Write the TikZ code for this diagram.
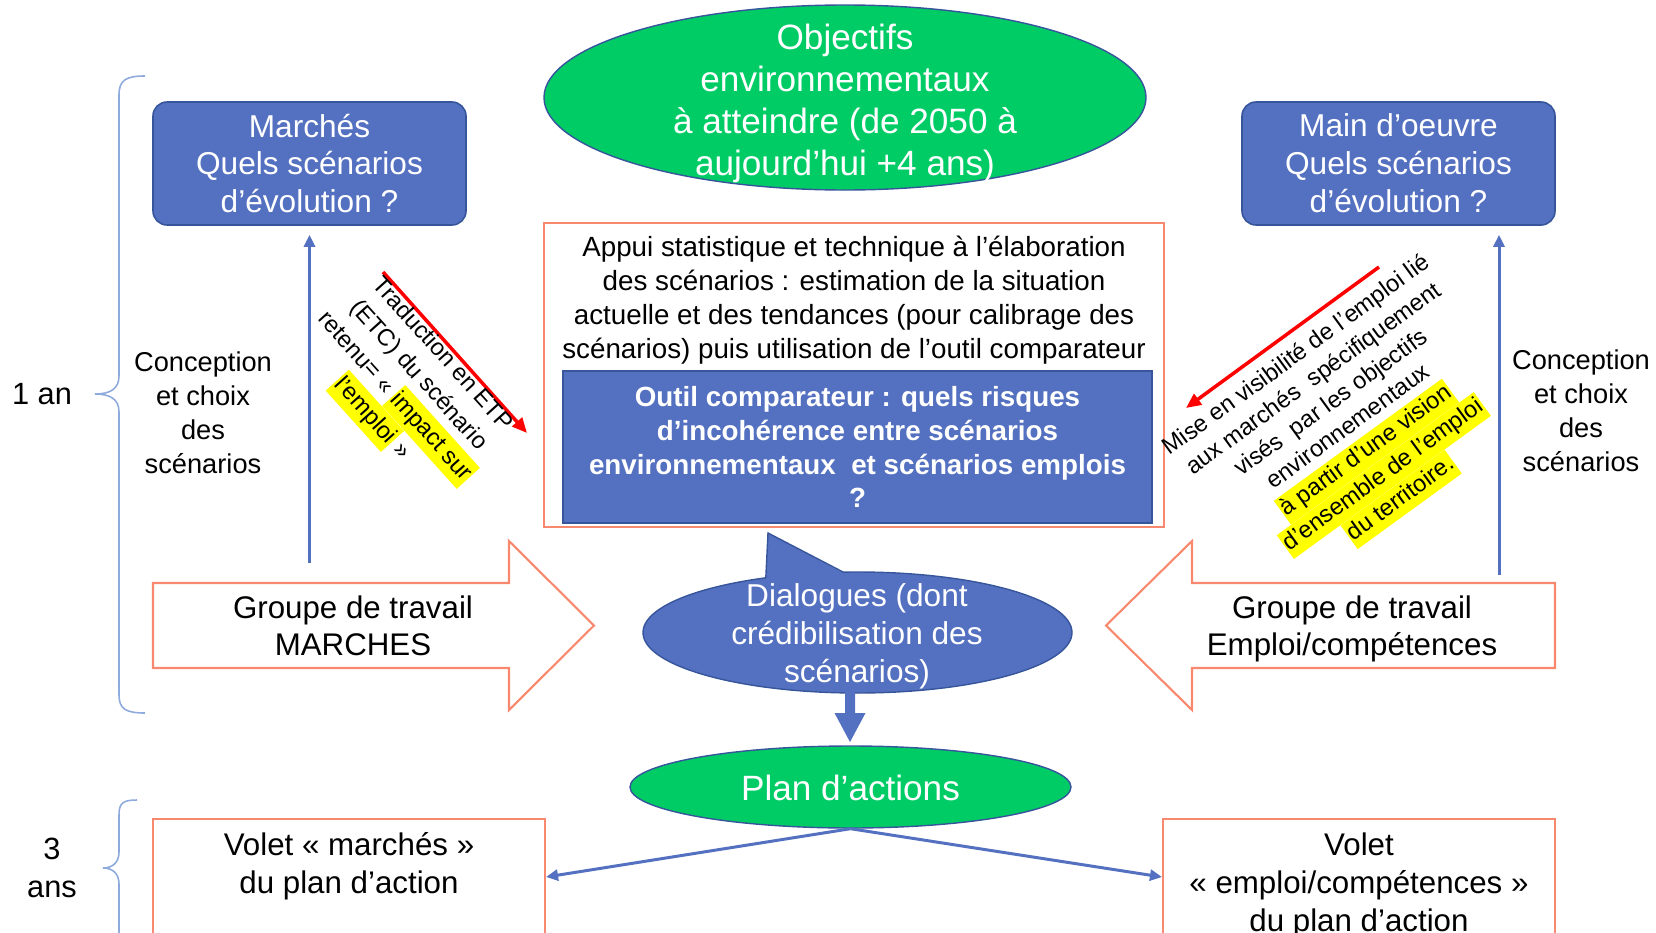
\documentclass[tikz,border=0pt]{standalone}
\usepackage{fontspec}
\setmainfont{Liberation Sans}
\usetikzlibrary{arrows.meta,shapes.geometric}
\definecolor{bfill}{RGB}{84,112,192}
\definecolor{bline}{RGB}{55,85,155}
\definecolor{gfill}{RGB}{0,204,102}
\definecolor{oline}{RGB}{248,136,110}
\definecolor{brc}{RGB}{143,170,220}
\definecolor{hly}{RGB}{255,255,0}
\newcommand{\hlt}[1]{{\setlength{\fboxsep}{0.6pt}\colorbox{hly}{\rule[-0.26\baselineskip]{0pt}{0.92\baselineskip}#1}}}
\tikzset{
  bluebox/.style={draw=bline, line width=0.9pt, fill=bfill, rounded corners=2.8mm, text=white, align=center, inner sep=0pt, font=\fontsize{18}{21.6}\selectfont},
  orbox/.style={draw=oline, line width=1.2pt, fill=white, inner sep=0pt},
  ell/.style={ellipse, draw=bline, line width=0.8pt, inner sep=0pt},
  wtxt/.style={text=white, align=center, inner sep=0pt},
  btxt/.style={text=black, align=center, inner sep=0pt},
  varrow/.style={draw=bfill, line width=1.7pt, -{Triangle[length=2.4mm,width=2.2mm]}},
  rarrow/.style={draw=red, line width=2pt, -{Triangle[length=3mm,width=2.6mm]}},
  bracepath/.style={draw=brc, line width=0.9pt},
  bigarrow/.style={draw=oline, line width=1.2pt, fill=white, line join=miter},
}
\begin{document}
\begin{tikzpicture}[x=0.2mm,y=-0.2mm]
\useasboundingbox (0,0) rectangle (1656,932);
\clip (0,0) rectangle (1656,932);

% braces
\draw[bracepath] (145,76) .. controls (126,76) and (119,80) .. (119,95) -- (119,376)
  .. controls (119,389) and (110,394) .. (95,394)
  .. controls (110,394) and (119,399) .. (119,412) -- (119,695)
  .. controls (119,709) and (126,713) .. (145,713);
\draw[bracepath] (137,800) .. controls (123,800) and (119,803) .. (119,815) -- (119,852)
  .. controls (119,863) and (112,868) .. (103,868)
  .. controls (112,868) and (119,873) .. (119,884) -- (119,945);
\node[btxt, font=\fontsize{17.5}{21}\selectfont] (unan) at (42,394) {1 an};
\node[btxt, font=\fontsize{17.5}{21.5}\selectfont] (troisans) at (52,868) {3\\ans};

% top ellipse
\node[ell, fill=gfill, minimum width=120.4mm, minimum height=37mm] (obj) at (845,97.5) {};
\node[wtxt, font=\fontsize{20}{24}\selectfont] (objtxt) at (845,103.5) {Objectifs\\environnementaux\\à atteindre (de 2050 à\\aujourd’hui +4 ans)};

% blue rounded boxes
\node[bluebox, minimum width=62.6mm, minimum height=24.6mm] (marches) at (309.5,163.5) {Marchés\\Quels scénarios\\d’évolution ?};
\node[bluebox, minimum width=62.6mm, minimum height=24.6mm] (mdo) at (1398.5,163.5) {Main d’oeuvre\\Quels scénarios\\d’évolution ?};

% central box
\node[orbox, minimum width=124mm, minimum height=60.8mm] (appui) at (854,375) {};
\node[btxt, font=\fontsize{15.8}{19.3}\selectfont] (appuitxt) at (854,300.5) {Appui statistique et technique à l’élaboration\\des scénarios : estimation de la situation\\actuelle et des tendances (pour calibrage des\\scénarios) puis utilisation de l’outil comparateur};
\node[draw=bline, line width=0.9pt, fill=bfill, text=white, align=center, inner sep=0pt, minimum width=117.8mm, minimum height=30.4mm, font=\bfseries\fontsize{15.8}{19.3}\selectfont] (outil) at (857.5,447) {Outil comparateur : quels risques\\d’incohérence entre scénarios\\environnementaux\ \ et scénarios emplois\\?};

% big arrows
\draw[bigarrow] (153,583) -- (509,583) -- (509,541) -- (594,625.5) -- (509,710) -- (509,668) -- (153,668) -- cycle;
\node[btxt, font=\fontsize{17.8}{21}\selectfont] (gtm) at (353,626) {Groupe de travail\\MARCHES};
\draw[bigarrow] (1555,583) -- (1192,583) -- (1192,541) -- (1106,625.5) -- (1192,710) -- (1192,668) -- (1555,668) -- cycle;
\node[btxt, font=\fontsize{17.8}{21}\selectfont] (gte) at (1352,629) {Groupe de travail\\Emploi/compétences};

% dialogues callout
\node[ell, fill=bfill, minimum width=85.8mm, minimum height=24.2mm] (dial) at (857.5,632.5) {};
\fill[bfill] (768,533) -- (765.5,587) -- (851,577) -- cycle;
\draw[bline, line width=0.8pt, line join=miter] (765.8,578) -- (768,533) -- (843,572);
\node[wtxt, font=\fontsize{18}{21.6}\selectfont] (dialtxt) at (857,636) {Dialogues (dont\\crédibilisation des\\scénarios)};

% down block arrow
\fill[bfill] (845,692) -- (855,692) -- (855,713) -- (865.5,713) -- (850,742) -- (834.5,713) -- (845,713) -- cycle;

% plan ellipse
\node[ell, fill=gfill, minimum width=88.2mm, minimum height=16.4mm] (plan) at (850.5,787) {};
\node[wtxt, font=\fontsize{20}{24}\selectfont] (plantxt) at (850.5,788) {Plan d’actions};

% volet boxes
\node[orbox, minimum width=78.4mm, minimum height=23.2mm] (voletL) at (349,877) {};
\node[btxt, font=\fontsize{17.8}{21.6}\selectfont] (voletLtxt) at (349,866.5) {Volet « marchés »\\du plan d’action};
\node[orbox, minimum width=78.4mm, minimum height=23.2mm] (voletR) at (1359,877) {};
\node[btxt, font=\fontsize{17.8}{21.6}\selectfont] (voletRtxt) at (1359,885.5) {Volet\\« emploi/compétences »\\du plan d’action};
\draw[varrow] (plan.south) -- (voletL.east);
\draw[varrow] (plan.south) -- (voletR.west);

% vertical arrows
\coordinate (vl) at (309.5,563);
\coordinate (vr) at (1499,575);
\draw[varrow, shorten >=1.8mm] (vl) -- (marches.south);
\draw[varrow, shorten >=1.8mm] (vr) -- (vr |- mdo.south);
\node[btxt, font=\fontsize{15.5}{19.3}\selectfont] (concL) at (203,413) {Conception\\et choix\\des\\scénarios};
\node[btxt, font=\fontsize{15.5}{19.3}\selectfont] (concR) at (1581,411) {Conception\\et choix\\des\\scénarios};

% red arrows and rotated texts
\coordinate (r1s) at (383,272);
\coordinate (r1e) at (527,433);
\coordinate (r2s) at (1379,267);
\coordinate (r2e) at (1186,408);
\draw[rarrow] (r1s) -- (r1e);
\draw[rarrow] (r2s) -- (r2e);
\node[btxt, rotate=-48, font=\fontsize{13.5}{18}\selectfont] (trad) at (405,388) {Traduction en ETP\\(ETC) du scénario\\retenu= « \hlt{impact sur}\\\hlt{l'emploi} »};
\node[btxt, rotate=36, font=\fontsize{13.5}{16.8}\selectfont] (mise) at (1350,429) {Mise en visibilité de l'emploi lié\\aux marchés\ \ spécifiquement\\visés\ \ par les objectifs\\environnementaux\\\hlt{à partir d'une vision}\\\hlt{d'ensemble de l'emploi}\\\hlt{du territoire.}};
\end{tikzpicture}
\end{document}
